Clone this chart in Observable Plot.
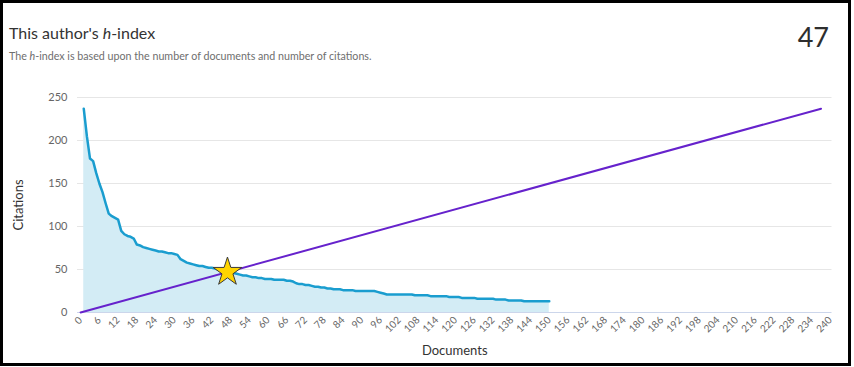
<!DOCTYPE html>
<html>
<head>
<meta charset="utf-8">
<script src="https://cdn.jsdelivr.net/npm/d3@7"></script>
<script src="https://cdn.jsdelivr.net/npm/@observablehq/plot@0.6"></script>
<style>
  html, body { margin: 0; padding: 0; background: #fff; }
  body { width: 854px; height: 367px; position: relative; overflow: hidden; font-family: Lato, "Open Sans", sans-serif; }
  #frame { position: absolute; left: 0; top: 0; width: 851px; height: 366px; box-sizing: border-box; border: 3px solid #000; }
  .t { position: absolute; white-space: nowrap; line-height: 1; }
  #title { left: 9px; top: 25px; font-size: 16px; color: #333; }
  #subtitle { left: 9px; top: 51px; font-size: 10.7px; color: #6e6e6e; }
  #hval { right: 25px; top: 23px; font-size: 27px; color: #2e2e2e; }
  #chart { position: absolute; left: 0; top: 80px; }
</style>
</head>
<body>
<div id="frame"></div>
<div class="t" id="title">This author's <i>h</i>-index</div>
<div class="t" id="subtitle">The <i>h</i>-index is based upon the number of documents and number of citations.</div>
<div class="t" id="hval">47</div>
<div id="chart"></div>
<script>
// Citations per document, ranked (documents 1..150)
const citations = [
  237,205,179,176,162,150,140,127,115,112,
  110,108,95,91,89,88,86,79,78,76,
  75,74,73,72,71,71,70,69,69,68,
  67,62,60,58,57,56,55,54,54,53,
  52,52,51,50,50,49,48,47,46,45,
  44,43,43,42,41,41,40,40,39,39,
  39,38,38,38,38,37,37,36,34,33,
  33,32,32,31,30,30,29,29,28,28,
  27,27,27,26,26,26,26,25,25,25,
  25,25,25,25,24,23,22,21,21,21,
  21,21,21,21,21,21,20,20,20,20,
  20,19,19,19,19,19,19,18,18,18,
  18,17,17,17,17,17,16,16,16,16,
  16,16,15,15,15,15,14,14,14,14,
  14,13,13,13,13,13,13,13,13,13
];
const documents = citations.map((_, i) => i + 1);
const hIndex = 47;
const diagonalEnd = 237;
const xTicks = d3.range(0, 241, 6);
const yTicks = [0, 50, 100, 150, 200, 250];

const series = documents.map((d, i) => ({doc: d, cites: citations[i]}));
const diagonal = [{x: 0, y: 0}, {x: diagonalEnd, y: diagonalEnd}];
const star = [{x: hIndex, y: hIndex}];

const chart = Plot.plot({
  width: 854,
  height: 283,
  marginLeft: 77,
  marginRight: 22.5,
  marginTop: 17,
  marginBottom: 51,
  style: {fontFamily: "Lato, 'Open Sans', sans-serif", background: "transparent", overflow: "visible"},
  x: {domain: [-1, 240.5], label: null},
  y: {domain: [0, 250], label: null},
  marks: [
    Plot.gridY(yTicks.slice(1), {stroke: "#e6e6e6", strokeOpacity: 1}),
    Plot.areaY(series, {x: "doc", y: "cites", fill: "#d3ecf5", fillOpacity: 1}),
    Plot.ruleY([0], {stroke: "#ccd6eb", strokeWidth: 1}),
    Plot.line(series, {x: "doc", y: "cites", stroke: "#1a9dcf", strokeWidth: 2.5}),
    Plot.line(diagonal, {x: "x", y: "y", stroke: "#6622cc", strokeWidth: 2}),
    Plot.dot(star, {x: "x", y: "y", symbol: "star", r: 9, fill: "#ffd400", stroke: "#3a3a3a", strokeWidth: 1}),
    Plot.axisY({ticks: yTicks, tickSize: 0, tickPadding: 10, fontSize: 11, fill: "#666", label: null}),
    Plot.axisX({ticks: xTicks, tickSize: 0, tickPadding: 6, tickRotate: -45, fontSize: 10, fill: "#666", label: null}),
    Plot.text(["Citations"], {frameAnchor: "left", dx: -59, rotate: -90, fontSize: 13, fill: "#333", textAnchor: "middle"}),
    Plot.text(["Documents"], {frameAnchor: "bottom", dy: 42, fontSize: 13, fill: "#333", textAnchor: "middle"})
  ]
});
document.getElementById("chart").appendChild(chart);
</script>
</body>
</html>
